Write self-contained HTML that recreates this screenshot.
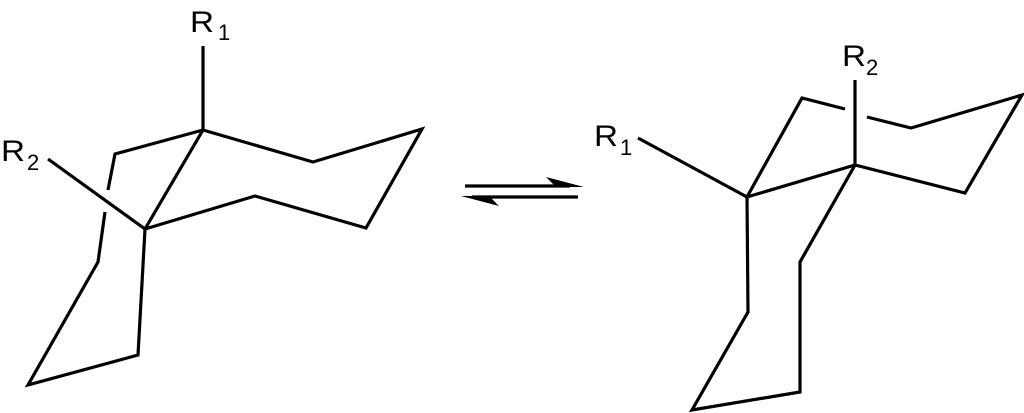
<!DOCTYPE html>
<html><head><meta charset="utf-8"><style>html,body{margin:0;padding:0;background:#fff}svg{display:block}</style></head>
<body>
<svg width="1024" height="413" viewBox="0 0 1024 413" xmlns="http://www.w3.org/2000/svg">
<g fill="none" stroke="#000" stroke-width="3.2" stroke-linejoin="miter" stroke-linecap="butt">
<line x1="203" y1="46" x2="203" y2="130"/>
<polyline points="145,229 203,130 313,162 422,129 366,228 255,196 145,229"/>
<polyline points="203,130 115,154 108,190"/>
<polyline points="105,212 98,262 28,385 138,355 145,229"/>
<line x1="48" y1="159" x2="145" y2="229"/>
<line x1="638" y1="138" x2="747" y2="197"/>
<line x1="855" y1="80" x2="855" y2="165"/>
<polyline points="747,197 855,165 965,193 1022,95 911,128 867,117"/>
<polyline points="845,109 802,98 747,197"/>
<polyline points="855,165 800,262 800,392 692,410 748,312 747,197"/>
<line x1="465" y1="186" x2="570" y2="186"/>
<line x1="472" y1="197" x2="578" y2="197"/>
</g>
<polygon points="584,187 546,177 556,187" fill="#000"/>
<polygon points="461,196 499,206 489,196" fill="#000"/>
<g font-family="'Liberation Sans', sans-serif" fill="#000">
<text x="190" y="32" font-size="30" textLength="24" lengthAdjust="spacingAndGlyphs">R</text><text x="218" y="40" font-size="22">1</text>
<text x="1" y="161" font-size="30" textLength="24" lengthAdjust="spacingAndGlyphs">R</text><text x="27" y="170" font-size="22">2</text>
<text x="594" y="146" font-size="30" textLength="24" lengthAdjust="spacingAndGlyphs">R</text><text x="620" y="155" font-size="22">1</text>
<text x="842" y="66" font-size="30" textLength="24" lengthAdjust="spacingAndGlyphs">R</text><text x="866" y="75" font-size="22">2</text>
</g>
</svg>
</body></html>
